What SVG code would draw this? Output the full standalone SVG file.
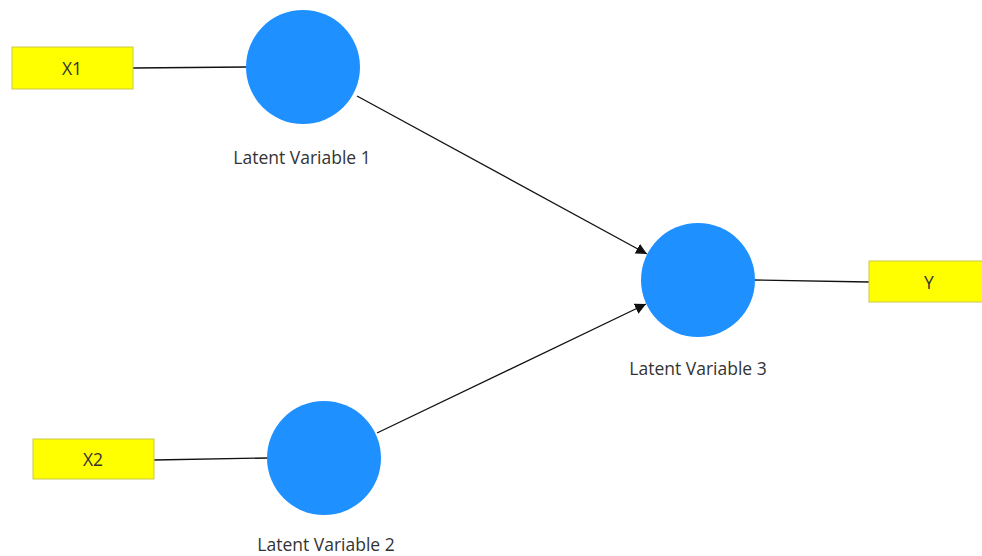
<svg xmlns="http://www.w3.org/2000/svg" width="982" height="556" viewBox="0 0 982 556">
<defs>
<style>
.ind{fill:#ffff00;stroke:#c9c94a;stroke-width:1}
.lv{fill:#1e90ff}
.t{font-family:"Open Sans","Noto Sans",sans-serif;font-size:17.5px;fill:#333;text-anchor:middle;dominant-baseline:central}
.c{stroke:#111;stroke-width:1.3;fill:none}
</style>
<marker id="ah" viewBox="0 0 10 10" refX="10" refY="5" markerWidth="11" markerHeight="11" markerUnits="userSpaceOnUse" orient="auto">
<path d="M0,0 L10,5 L0,10 z" fill="#111"/>
</marker>
</defs>
<rect width="982" height="556" fill="#ffffff"/>
<g id="connectors">
<line class="c" x1="133" y1="68" x2="247" y2="67"/>
<line class="c" x1="154" y1="460" x2="268" y2="458"/>
<line class="c" x1="754" y1="280" x2="869" y2="282"/>
<line class="c" x1="357" y1="96" x2="647" y2="254" marker-end="url(#ah)"/>
<line class="c" x1="377" y1="433" x2="646" y2="304" marker-end="url(#ah)"/>
</g>
<g id="X1"><rect class="ind" x="12" y="47" width="121" height="42"/><text class="t" x="72" y="68">X1</text></g>
<g id="X2"><rect class="ind" x="33" y="439" width="121" height="40"/><text class="t" x="93" y="459">X2</text></g>
<g id="Y"><rect class="ind" x="869" y="261" width="121" height="41"/><text class="t" x="929" y="282">Y</text></g>
<g id="LV1"><circle class="lv" cx="303" cy="67" r="57"/><text class="t" x="302" y="157">Latent Variable 1</text></g>
<g id="LV2"><circle class="lv" cx="324" cy="458" r="57"/><text class="t" x="326" y="544">Latent Variable 2</text></g>
<g id="LV3"><circle class="lv" cx="698" cy="280" r="57"/><text class="t" x="698" y="368">Latent Variable 3</text></g>
</svg>
